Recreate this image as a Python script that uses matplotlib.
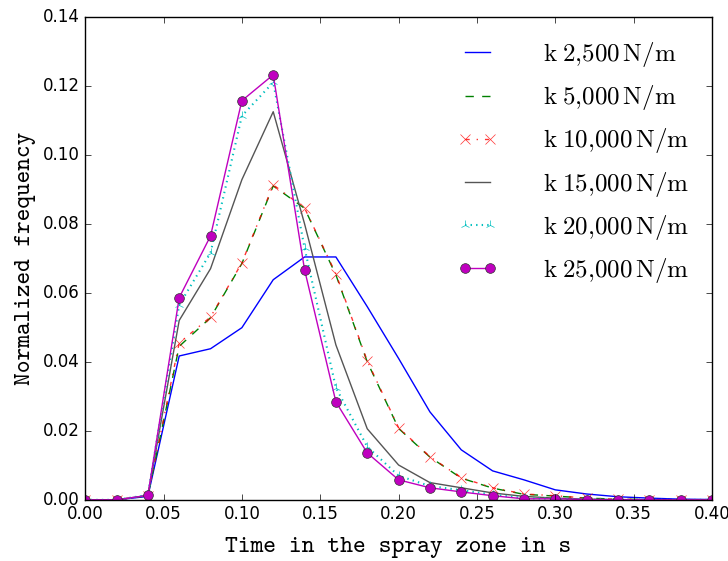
import numpy as np
import matplotlib
matplotlib.use('Agg')
import matplotlib.pyplot as plt

plt.style.use('classic')
plt.rcParams['mathtext.fontset'] = 'cm'

# time in the spray zone (s)
t = [0.00, 0.02, 0.04, 0.06, 0.08, 0.10, 0.12, 0.14, 0.16, 0.18, 0.20,
     0.22, 0.24, 0.26, 0.28, 0.30, 0.32, 0.34, 0.36, 0.38, 0.40]

# normalized frequency per spring stiffness
k2500 = [0.0, 0.0, 0.0010, 0.0417, 0.0438, 0.0499, 0.0638, 0.0704, 0.0704, 0.0560, 0.0410,
         0.0255, 0.0145, 0.0084, 0.0058, 0.0029, 0.0017, 0.0009, 0.0005, 0.0002, 0.0001]
k5000 = [0.0, 0.0, 0.0012, 0.0445, 0.0528, 0.0685, 0.0910, 0.0845, 0.0652, 0.0400, 0.0207,
         0.0124, 0.0063, 0.0034, 0.0016, 0.0011, 0.0005, 0.0002, 0.0001, 0.0, 0.0]
k10000 = [0.0, 0.0, 0.0012, 0.0455, 0.0530, 0.0687, 0.0913, 0.0846, 0.0655, 0.0403, 0.0209,
          0.0125, 0.0064, 0.0035, 0.0017, 0.0012, 0.0005, 0.0002, 0.0001, 0.0, 0.0]
k15000 = [0.0, 0.0, 0.0013, 0.0520, 0.0670, 0.0928, 0.1125, 0.0800, 0.0449, 0.0206, 0.0101,
          0.0050, 0.0035, 0.0020, 0.0010, 0.0005, 0.0002, 0.0001, 0.0, 0.0, 0.0]
k20000 = [0.0, 0.0, 0.0014, 0.0565, 0.0716, 0.1113, 0.1210, 0.0730, 0.0325, 0.0154, 0.0070,
          0.0040, 0.0028, 0.0015, 0.0005, 0.0003, 0.0001, 0.0, 0.0, 0.0, 0.0]
k25000 = [0.0, 0.0, 0.0013, 0.0586, 0.0765, 0.1157, 0.1232, 0.0667, 0.0284, 0.0136, 0.0058,
          0.0035, 0.0023, 0.0012, 0.0003, 0.0003, 0.0001, 0.0, 0.0, 0.0, 0.0]

labels = [r'$\mathrm{k\;2{,}500\,N/m}$', r'$\mathrm{k\;5{,}000\,N/m}$',
          r'$\mathrm{k\;10{,}000\,N/m}$', r'$\mathrm{k\;15{,}000\,N/m}$',
          r'$\mathrm{k\;20{,}000\,N/m}$', r'$\mathrm{k\;25{,}000\,N/m}$']

fig = plt.figure(figsize=(7.28, 5.61), dpi=100)
ax = fig.add_axes([0.117, 0.109, 0.861, 0.861])

ax.plot(t, k2500, 'b-', lw=1.0, label=labels[0])
ax.plot(t, k5000, 'g--', lw=1.0, label=labels[1])
ax.plot(t, k10000, 'r-.', lw=1.0, marker='x', ms=7, mec='r', alpha=0.8, label=labels[2])
ax.plot(t, k15000, '-', color='#555555', lw=1.0, label=labels[3])
ax.plot(t, k20000, 'c:', lw=1.5, marker='2', ms=7, label=labels[4])
ax.plot(t, k25000, 'm-', lw=1.0, marker='o', ms=7, mfc='m', mec='#333333', label=labels[5])

ax.set_xlim(0, 0.40)
ax.set_ylim(0, 0.14)
ax.set_xticks(np.arange(0, 0.41, 0.05))
ax.set_yticks(np.arange(0, 0.141, 0.02))
ax.xaxis.set_major_formatter(matplotlib.ticker.FormatStrFormatter('%.2f'))
ax.yaxis.set_major_formatter(matplotlib.ticker.FormatStrFormatter('%.2f'))

ax.set_xlabel('Time in the spray zone in s', family='cmtt10', fontsize=17.6, labelpad=10)
ax.set_ylabel('Normalized frequency', family='cmtt10', fontsize=17.4)

ax.legend(loc='upper right', bbox_to_anchor=(0.992, 0.988), frameon=False,
          fontsize=18, numpoints=2, handlelength=1.6, handletextpad=1.85,
          labelspacing=0.565, borderaxespad=0.3)

fig.savefig('out.png', dpi=100)
